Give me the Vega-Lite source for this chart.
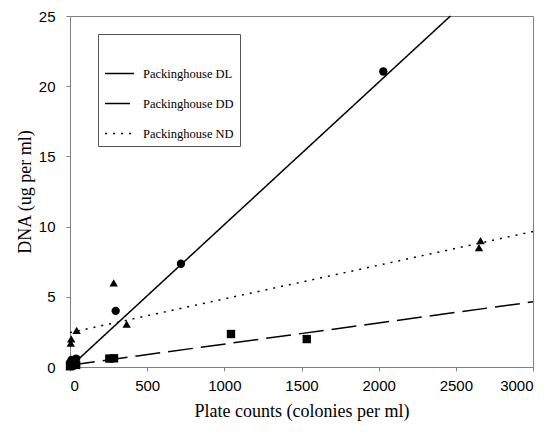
{
  "$schema": "https://vega.github.io/schema/vega-lite/v6.json",
  "autosize": "none",
  "width": 463,
  "height": 351,
  "padding": {"left": 70, "top": 16, "right": 27, "bottom": 76},
  "background": "white",
  "config": {
    "view": {"stroke": "#808080", "strokeWidth": 1},
    "axis": {
      "domainColor": "#808080",
      "tickColor": "#808080",
      "grid": false,
      "labelFont": "Liberation Sans",
      "labelFontSize": 15,
      "labelColor": "black",
      "titleFont": "Liberation Serif",
      "titleFontSize": 18,
      "titleFontWeight": "normal",
      "titleColor": "black",
      "tickSize": 4,
      "format": "d"
    }
  },
  "datasets": {
    "pts": [
      {"x": 0, "y": 0.3, "group": "DL"},
      {"x": 10, "y": 0.5, "group": "DL"},
      {"x": 40, "y": 0.6, "group": "DL"},
      {"x": 296, "y": 4.0, "group": "DL"},
      {"x": 719, "y": 7.35, "group": "DL"},
      {"x": 2030, "y": 21.05, "group": "DL"},
      {"x": 0, "y": 0.05, "group": "DD"},
      {"x": 10, "y": 0.1, "group": "DD"},
      {"x": 25, "y": 0.2, "group": "DD"},
      {"x": 40, "y": 0.15, "group": "DD"},
      {"x": 255, "y": 0.6, "group": "DD"},
      {"x": 285, "y": 0.62, "group": "DD"},
      {"x": 1043, "y": 2.35, "group": "DD"},
      {"x": 1534, "y": 1.99, "group": "DD"},
      {"x": 5, "y": 1.7, "group": "ND"},
      {"x": 8, "y": 2.0, "group": "ND"},
      {"x": 43, "y": 2.6, "group": "ND"},
      {"x": 283, "y": 6.0, "group": "ND"},
      {"x": 367, "y": 3.05, "group": "ND"},
      {"x": 2650, "y": 8.5, "group": "ND"},
      {"x": 2660, "y": 9.0, "group": "ND"}
    ],
    "fits": [
      {"x": 0, "y": 0, "series": "Packinghouse DL"},
      {"x": 2465, "y": 25, "series": "Packinghouse DL"},
      {"x": 0, "y": 0.13, "series": "Packinghouse DD"},
      {"x": 3000, "y": 4.64, "series": "Packinghouse DD"},
      {"x": 0, "y": 2.45, "series": "Packinghouse ND"},
      {"x": 3000, "y": 9.65, "series": "Packinghouse ND"}
    ]
  },
  "layer": [
    {
      "data": {"name": "fits"},
      "mark": {"type": "line", "color": "black", "strokeWidth": 1.5},
      "encoding": {
        "x": {"field": "x", "type": "quantitative", "scale": {"domain": [0, 3000], "nice": false},
              "axis": {"values": [0, 500, 1000, 1500, 2000, 2500, 3000], "title": "Plate counts (colonies per ml)", "labelPadding": 7, "titlePadding": 9}},
        "y": {"field": "y", "type": "quantitative", "scale": {"domain": [0, 25], "nice": false},
              "axis": {"values": [0, 5, 10, 15, 20, 25], "title": "DNA (ug per ml)", "labelPadding": 11, "titlePadding": 4}},
        "detail": {"field": "series"},
        "strokeDash": {
          "field": "series", "type": "nominal",
          "scale": {"domain": ["Packinghouse DL", "Packinghouse DD", "Packinghouse ND"], "range": [[1, 0], [25, 8], [2, 6]]},
          "legend": {
            "orient": "none", "legendX": 28, "legendY": 18,
            "title": " ", "titleFontSize": 12, "titlePadding": 6,
            "padding": 6, "strokeColor": "#555555", "fillColor": "white",
            "symbolType": "stroke", "symbolSize": 841, "symbolStrokeWidth": 1.5, "symbolStrokeColor": "black",
            "labelFont": "Liberation Serif", "labelFontSize": 12.5, "labelColor": "black", "labelOffset": 8,
            "rowPadding": 8
          }
        }
      }
    },
    {
      "data": {"name": "pts"},
      "mark": {"type": "point", "filled": true, "color": "black", "opacity": 1, "size": 70, "clip": false},
      "encoding": {
        "x": {"field": "x", "type": "quantitative"},
        "y": {"field": "y", "type": "quantitative"},
        "shape": {
          "field": "group", "type": "nominal",
          "scale": {"domain": ["DL", "DD", "ND"], "range": ["circle", "square", "triangle-up"]},
          "legend": null
        }
      }
    }
  ]
}
